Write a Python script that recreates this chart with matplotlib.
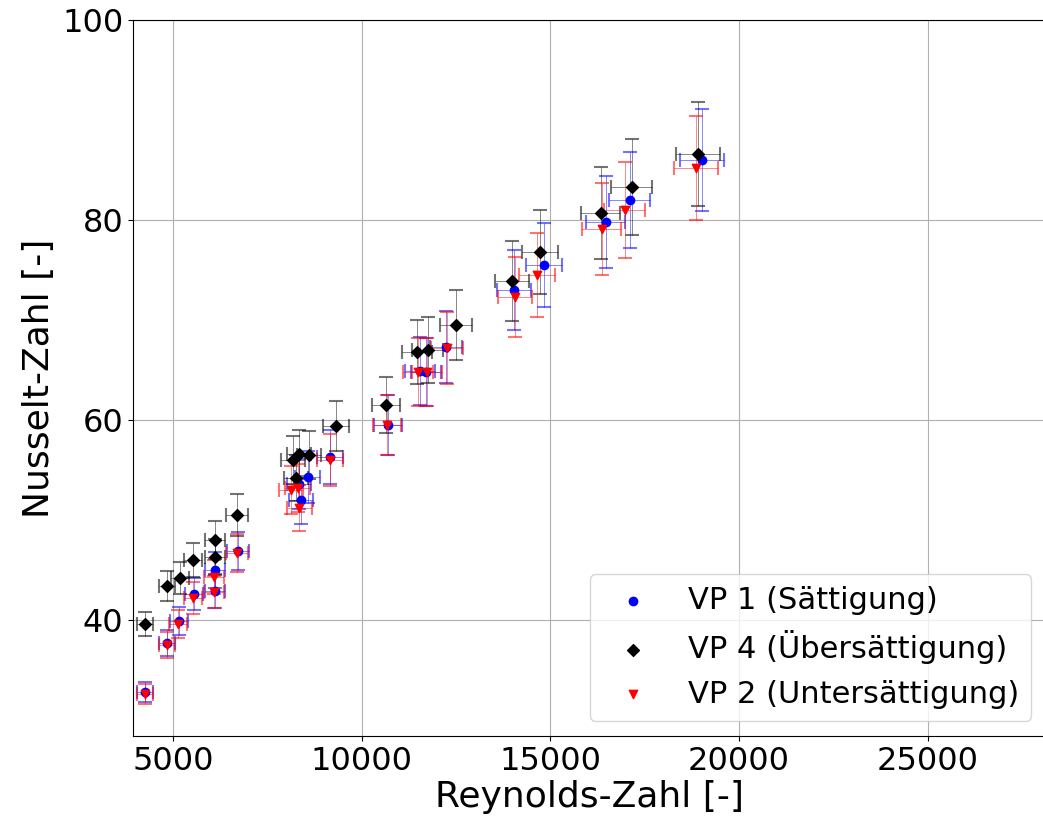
import numpy as np
import matplotlib
matplotlib.use("Agg")
import matplotlib.pyplot as plt

# VP 1 (Sättigung)
re_vp1 = [4258, 4841, 5159, 5556, 6113, 6113, 6722, 8390, 8576, 8330, 9159,
          10695, 11543, 11700, 12232, 14033, 14828, 16470, 17106, 19013]
nu_vp1 = [32.8, 37.7, 39.9, 42.6, 45.0, 42.9, 46.9, 52.0, 54.3, 53.6, 56.3,
          59.5, 64.9, 64.8, 67.3, 73.0, 75.5, 79.8, 82.0, 86.0]
nu_err_vp1 = [1.0, 1.3, 1.4, 1.6, 1.8, 1.7, 1.9, 2.4, 2.6, 2.5, 2.7,
              3.0, 3.4, 3.4, 3.6, 4.0, 4.2, 4.6, 4.8, 5.1]
re_err_vp1 = [200, 220, 230, 240, 260, 260, 280, 320, 330, 320, 340,
              380, 400, 400, 420, 460, 480, 520, 540, 580]

# VP 4 (Übersättigung)
re_vp4 = [4258, 4841, 5185, 5530, 6113, 6113, 6695, 8179, 8338, 8603, 8258,
          9318, 10642, 11464, 11755, 12497, 13980, 14722, 16338, 17159, 18907]
nu_vp4 = [39.6, 43.4, 44.2, 46.0, 48.0, 46.3, 50.5, 56.0, 56.6, 56.5, 54.2,
          59.4, 61.5, 66.8, 67.0, 69.5, 73.9, 76.8, 80.7, 83.3, 86.6]
nu_err_vp4 = [1.2, 1.5, 1.6, 1.7, 1.9, 1.8, 2.1, 2.4, 2.4, 2.4, 2.3,
              2.5, 2.8, 3.2, 3.3, 3.5, 4.0, 4.2, 4.6, 4.8, 5.2]
re_err_vp4 = [200, 220, 230, 240, 260, 260, 280, 320, 330, 330, 320,
              350, 380, 400, 410, 430, 460, 480, 520, 540, 580]

# VP 2 (Untersättigung)
re_vp2 = [4258, 4841, 5132, 5530, 6086, 6086, 6695, 8126, 8311, 8350, 9159,
          10669, 11490, 11729, 12258, 14060, 14642, 16364, 16974, 18854]
nu_vp2 = [32.6, 37.5, 39.6, 42.2, 42.8, 44.3, 46.7, 53.0, 53.2, 51.2, 56.0,
          59.5, 64.8, 64.8, 67.2, 72.3, 74.5, 79.1, 81.0, 85.2]
nu_err_vp2 = [1.0, 1.3, 1.4, 1.6, 1.6, 1.7, 1.9, 2.4, 2.4, 2.3, 2.6,
              3.0, 3.4, 3.4, 3.6, 4.0, 4.2, 4.6, 4.8, 5.2]
re_err_vp2 = [200, 220, 230, 240, 260, 260, 280, 320, 330, 330, 340,
              380, 400, 400, 420, 460, 480, 520, 540, 580]

series = [
    (re_vp1, nu_vp1, re_err_vp1, nu_err_vp1, 'blue', 'o', 'VP 1 (Sättigung)'),
    (re_vp4, nu_vp4, re_err_vp4, nu_err_vp4, 'black', 'D', 'VP 4 (Übersättigung)'),
    (re_vp2, nu_vp2, re_err_vp2, nu_err_vp2, 'red', 'v', 'VP 2 (Untersättigung)'),
]

fig = plt.figure(figsize=(10.43, 8.23), dpi=100)
ax = fig.add_axes([0.1275, 0.1057, 0.876, 0.870])

for x, y, xe, ye, col, mk, lab in series:
    ax.errorbar(x, y, xerr=xe, yerr=ye, fmt='none', ecolor=col,
                elinewidth=0.6, capsize=5, capthick=1.5, alpha=0.55)
    ax.scatter(x, y, color=col, marker=mk, s=36, label=lab, zorder=3)

ax.set_xlim(3940, 28150)
ax.set_ylim(28.4, 100)
ax.set_xticks([5000, 10000, 15000, 20000, 25000])
ax.set_yticks([40, 60, 80, 100])
ax.tick_params(labelsize=23)
ax.set_xlabel('Reynolds-Zahl [-]', fontsize=26, labelpad=2)
ax.set_ylabel('Nusselt-Zahl [-]', fontsize=26)
ax.grid(True)
ax.legend(loc='lower right', fontsize=22)

fig.savefig('out.png', dpi=100)
